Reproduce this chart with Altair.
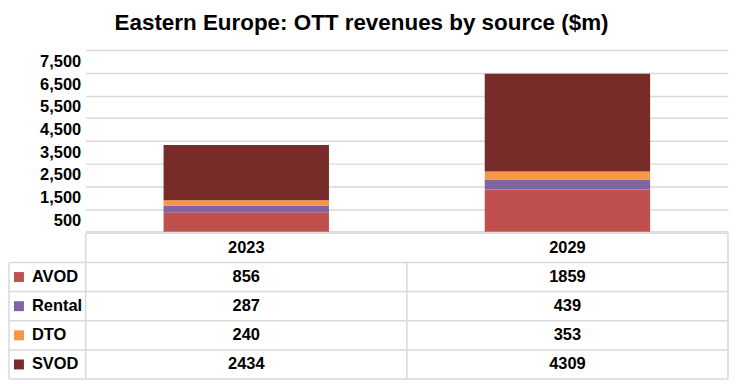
import altair as alt
import pandas as pd

# ---- data ----
years = ["2023", "2029"]
sources = ["AVOD", "Rental", "DTO", "SVOD"]
avod = [856, 1859]
rental = [287, 439]
dto = [240, 353]
svod = [2434, 4309]
colors = ["#C0504D", "#8064A2", "#F79646", "#772C2A"]
title_text = "Eastern Europe: OTT revenues by source ($m)"
y_ticks = list(range(0, 8001, 500))

FONT = "Liberation Sans"
GRID = "#D9D9D9"
FS = 16.5

series = {"AVOD": avod, "Rental": rental, "DTO": dto, "SVOD": svod}
rows = []
for si, s in enumerate(sources):
    for yi, yr in enumerate(years):
        rows.append({"source": s, "year": yr, "value": series[s][yi],
                     "order": si, "row": si + 1, "col": yi})
df = pd.DataFrame(rows)
color_scale = alt.Scale(domain=sources, range=colors)

# ---- stacked bar chart ----
bars = alt.Chart(df).mark_bar().encode(
    x=alt.X("year:N", sort=years,
            scale=alt.Scale(paddingInner=0.485, paddingOuter=0.2425), axis=None),
    y=alt.Y("value:Q", stack="zero",
            scale=alt.Scale(domain=[0, 8000], nice=False),
            axis=alt.Axis(values=y_ticks, title=None,
                          labelExpr="datum.value % 1000 == 500 ? format(datum.value, ',') : ''",
                          grid=True, gridColor=GRID, gridWidth=1.5,
                          gridOpacity=alt.condition("datum.value % 1000 == 0", alt.value(1), alt.value(0)),
                          domain=False, ticks=False, tickSize=0, labelPadding=5,
                          labelFont=FONT, labelFontSize=FS, labelFontWeight="bold",
                          labelColor="black", minExtent=77, maxExtent=77)),
    color=alt.Color("source:N", scale=color_scale, legend=None),
    order=alt.Order("order:Q", sort="ascending"),
).properties(width=645, height=182.4)

# ---- data table ----
nrows = len(sources) + 1
ncols = len(years)
yscale = alt.Scale(domain=[0, nrows], reverse=True, nice=False, zero=False)
xscale = alt.Scale(domain=[0, ncols], nice=False, zero=False)

hl = pd.DataFrame({"y": list(range(0, nrows + 1)),
                   "x": [0] * (nrows + 1), "x2": [ncols] * (nrows + 1)})
vl = pd.DataFrame({"x": list(range(0, ncols + 1)),
                   "y": [0 if c in (0, ncols) else 1 for c in range(ncols + 1)],
                   "y2": [nrows] * (ncols + 1)})
hdr = pd.DataFrame({"year": years, "col": list(range(ncols)), "row": [0] * ncols})

text_style = dict(font=FONT, fontSize=FS, fontWeight="bold", color="black",
                  align="center", baseline="middle")

h_rules = alt.Chart(hl).mark_rule(color=GRID, strokeWidth=1.5).encode(
    x=alt.X("x:Q", scale=xscale, axis=None), x2="x2:Q",
    y=alt.Y("y:Q", scale=yscale, axis=None))
v_rules = alt.Chart(vl).mark_rule(color=GRID, strokeWidth=1.5).encode(
    x=alt.X("x:Q", scale=xscale, axis=None),
    y=alt.Y("y:Q", scale=yscale, axis=None), y2="y2:Q")
header = alt.Chart(hdr).mark_text(**text_style).transform_calculate(
    xc="datum.col + 0.5", yc="datum.row + 0.5").encode(
    x=alt.X("xc:Q", scale=xscale, axis=None),
    y=alt.Y("yc:Q", scale=yscale, axis=None),
    text="year:N")
cells = alt.Chart(df).mark_text(**text_style).transform_calculate(
    xc="datum.col + 0.5", yc="datum.row + 0.5").encode(
    x=alt.X("xc:Q", scale=xscale, axis=None),
    y=alt.Y("yc:Q", scale=yscale, axis=None),
    text="value:Q")

# label column, drawn in the 77px strip left of the value columns
LABEL_W = 77
lhl = pd.DataFrame({"y": list(range(1, nrows + 1))})
lvl = pd.DataFrame({"y": [1], "y2": [nrows]})
lab_h = alt.Chart(lhl).mark_rule(color=GRID, strokeWidth=1.5).encode(
    x=alt.value(-LABEL_W), x2=alt.value(0),
    y=alt.Y("y:Q", scale=yscale, axis=None))
lab_v = alt.Chart(lvl).mark_rule(color=GRID, strokeWidth=1.5).encode(
    x=alt.value(-LABEL_W),
    y=alt.Y("y:Q", scale=yscale, axis=None), y2="y2:Q")
lab_df = df[df["col"] == 0]
squares = alt.Chart(lab_df).mark_point(shape="square", filled=True, size=100, opacity=1).transform_calculate(
    yc="datum.row + 0.5").encode(
    x=alt.value(-LABEL_W + 10),
    y=alt.Y("yc:Q", scale=yscale, axis=None),
    color=alt.Color("source:N", scale=color_scale, legend=None))
names = alt.Chart(lab_df).mark_text(font=FONT, fontSize=FS, fontWeight="bold", color="black",
                                     align="left", baseline="middle").transform_calculate(
    yc="datum.row + 0.5").encode(
    x=alt.value(-LABEL_W + 23),
    y=alt.Y("yc:Q", scale=yscale, axis=None),
    text="source:N")

table = alt.layer(h_rules, v_rules, header, cells, lab_h, lab_v, squares, names).properties(
    width=645, height=146.3)

chart = alt.vconcat(bars, table, spacing=0).properties(
    title=alt.TitleParams(title_text, font=FONT, fontSize=22.5, fontWeight="bold",
                          color="black", anchor="middle", offset=15.3, dx=-7),
    padding={"top": 3.5, "left": 0, "right": 0, "bottom": 0},
).configure_view(stroke=None)

chart.save("out.html", embed_options={"renderer": "svg", "actions": False})
